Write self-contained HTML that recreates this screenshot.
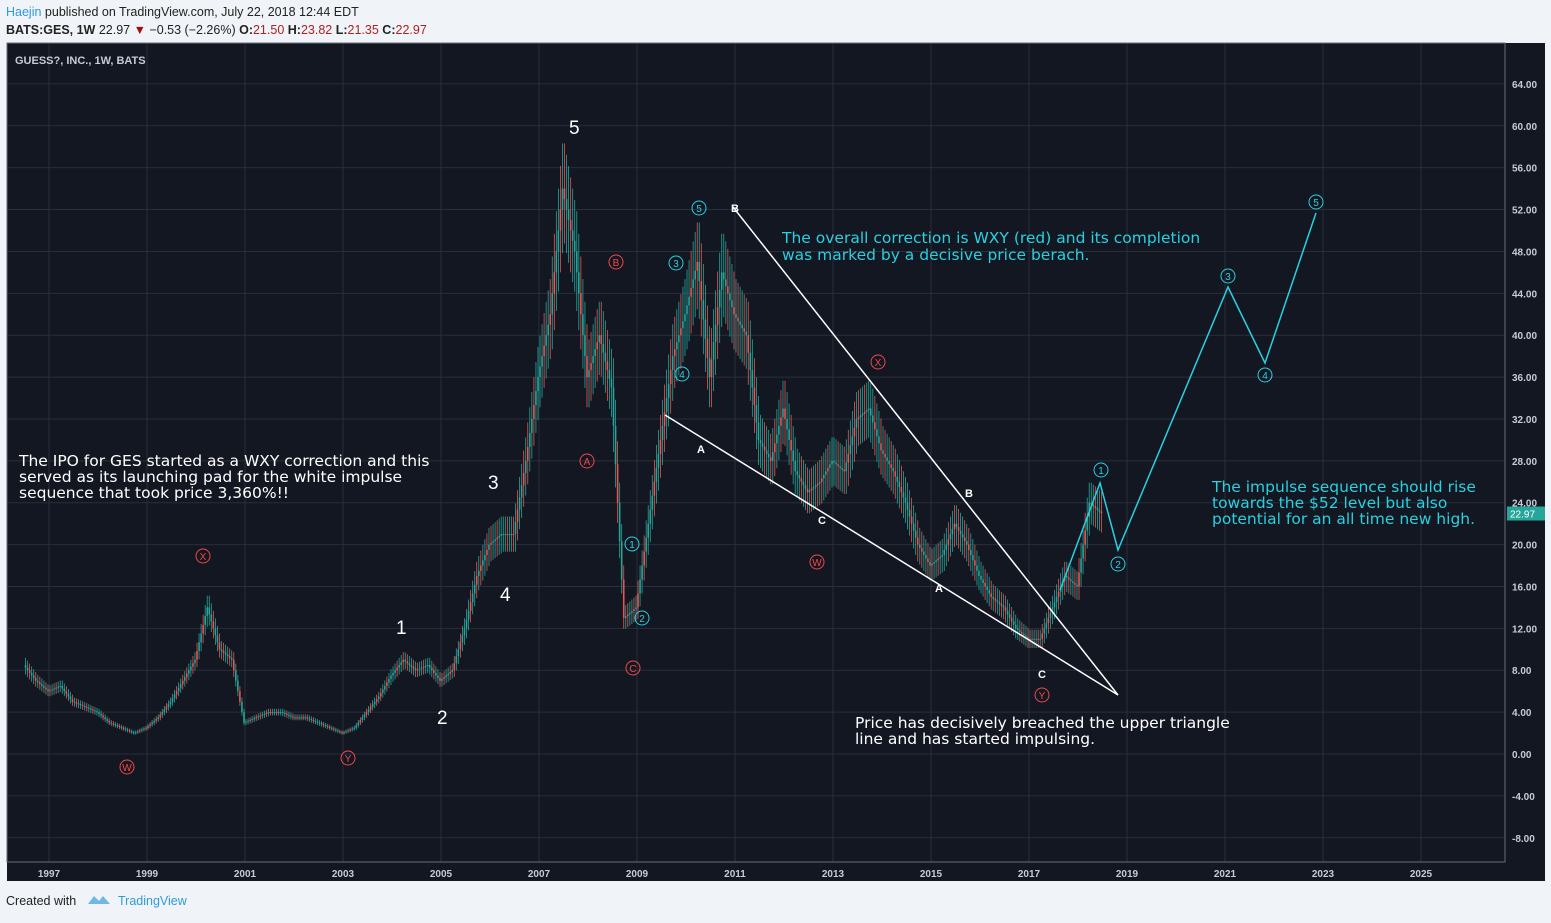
<!DOCTYPE html>
<html><head><meta charset="utf-8"><style>
body{margin:0;width:1551px;height:918px;background:#f0f3f7;font-family:"Liberation Sans",sans-serif;overflow:hidden}
svg text{font-family:"Liberation Sans",sans-serif}
svg text.note{font-family:"DejaVu Sans","Liberation Sans",sans-serif}
</style></head><body>
<svg id="c" width="1551" height="918">
<text x="6" y="16" font-size="12.5" fill="#222"><tspan fill="#2d9cdb">Haejin</tspan> published on TradingView.com, July 22, 2018 12:44 EDT</text>
<text x="6" y="34" font-size="12.5" fill="#222"><tspan font-weight="bold">BATS:GES, 1W</tspan>  22.97 <tspan fill="#a01010">▼</tspan> −0.53 (−2.26%) <tspan font-weight="bold">O:</tspan><tspan fill="#b02020">21.50</tspan> <tspan font-weight="bold">H:</tspan><tspan fill="#b02020">23.82</tspan> <tspan font-weight="bold">L:</tspan><tspan fill="#b02020">21.35</tspan> <tspan font-weight="bold">C:</tspan><tspan fill="#b02020">22.97</tspan></text>
<rect x="7" y="43" width="1538" height="838" fill="#131722"/>
<g id="grid"></g>
<rect x="7" y="43" width="1498" height="819" fill="none" stroke="#6a6d78"/>
<text x="15" y="64" font-size="11" font-weight="bold" fill="#c8cbd2">GUESS?, INC., 1W, BATS</text>
<g id="candles"></g>
<g id="ann"></g>
<text x="6" y="905" font-size="12.5" fill="#222">Created with</text>
<text x="118" y="905" font-size="12.5" fill="#2d9cdb">TradingView</text>
<path d="M88 904 l6 -8 l5 5 l4 -5 l7 8 z" fill="#6fb8e6"/>
</svg>
<script>
const yearTicks=[1997,1999,2001,2003,2005,2007,2009,2011,2013,2015,2017,2019,2021,2023,2025];
const priceTicks=[64,60,56,52,48,44,40,36,32,28,24,20,16,12,8,4,0,-4,-8];
const startYear=1996.5;
const closes=[8.5,7,6,6.5,5,4.5,4,3,2.5,2,2.5,3.5,5,7,9,14,10,9,3,3.5,4,4,3.5,3.5,3,2.5,2,2.5,4,5.5,7.5,9,8,8.5,7,8,12,17,20,21,21,28,36,42,54,48,36,40,35,13,14,22,30,38,42,47,36,46,42,40,30,28,33,27,25,26,28,27,32,33,29,27,24,20,18,19,22,20,17,15,14,12,11,11,14,17,16,24,23];
const NS='http://www.w3.org/2000/svg';
const X=y=>49+(y-1997)*49.0;
const Y=p=>754-p*10.47;
function mk(t,a,parent){const e=document.createElementNS(NS,t);for(const k in a)e.setAttribute(k,a[k]);parent.appendChild(e);return e;}
const grid=document.getElementById('grid');
for(const p of priceTicks){
 const l=mk('line',{x1:7,x2:1505,y1:Y(p),y2:Y(p),stroke:'#2a2e39'},grid);
 
 
 const t=mk('text',{x:1512,y:Y(p)+4,'font-size':10,fill:'#c8cbd2','font-weight':'bold'},grid);
 t.textContent=p.toFixed(2);
 
 
}
for(const y of yearTicks){
 const l=mk('line',{x1:X(y),x2:X(y),y1:43,y2:862,stroke:'#2a2e39'},grid);
 
 
 const t=mk('text',{x:X(y),y:877,'font-size':10,fill:'#c8cbd2','font-weight':'bold','text-anchor':'middle'},grid);
 t.textContent=y;
 
 
}
const cg=document.getElementById('candles');
for(let i=1;i<closes.length;i++){
 const o=closes[i-1],c=closes[i];
 const x0=X(startYear+(i-1)*0.25),x1=X(startYear+i*0.25);
 const n=6;
 for(let k=0;k<n;k++){
  const f0=k/n,f1=(k+1)/n;
  const a=o+(c-o)*f0,b=o+(c-o)*f1;
  const hi=Math.max(a,b)*1.08,lo=Math.min(a,b)*0.92;
  const x=x0+(x1-x0)*(k+0.5)/n;
  const col=((k+i)%3===0)?'#ef5350':'#26a69a';
  const w=mk('line',{x1:x,x2:x,y1:Y(hi),y2:Y(lo),stroke:col,'stroke-width':0.8},cg);
  
  
  const r=mk('rect',{x:x-0.8,width:1.6,y:Y(Math.max(a,b)),height:Math.max(1,Math.abs(Y(a)-Y(b))),fill:col},cg);
  
  
 }
}
const lb=mk('rect',{x:1507,y:Y(22.97)-7,width:38,height:14,fill:'#26a69a'},cg);


const lt=mk('text',{x:1510,y:Y(22.97)+4,'font-size':10,fill:'#fff'},cg);
lt.textContent='22.97';


const an=document.getElementById('ann');
function line(pts,col,name){const p=mk('polyline',{points:pts.map(q=>q.join(',')).join(' '),fill:'none',stroke:col,'stroke-width':1.5},an);}
line([[733,207],[1118,695]],'#fff','triangle-upper-line');
line([[665,415],[1118,695]],'#fff','triangle-lower-line');
line([[1060,590],[1100,483],[1118,550],[1228,287],[1265,363],[1316,213]],'#28d0e0','projected-impulse-path');
function circ(x,y,t,col,name){const c=mk('circle',{cx:x,cy:y,r:7,fill:'none',stroke:col,'stroke-width':1},an);const tx=mk('text',{x:x,y:y+4,'font-size':10,fill:col,'text-anchor':'middle'},an);tx.textContent=t;}
const red='#f04848',cy='#28d0e0';
circ(127,767,'W',red,'wave-w-red');circ(203,556,'X',red,'wave-x-red');circ(348,758,'Y',red,'wave-y-red');
circ(587,461,'A',red,'wave-a-red');circ(616,262,'B',red,'wave-b-red');circ(633,668,'C',red,'wave-c-red');
circ(817,562,'W',red,'wave-w2-red');circ(878,362,'X',red,'wave-x2-red');circ(1042,695,'Y',red,'wave-y2-red');
circ(632,544,'1',cy,'wave-1-cyan');circ(642,618,'2',cy,'wave-2-cyan');circ(676,263,'3',cy,'wave-3-cyan');circ(682,374,'4',cy,'wave-4-cyan');circ(699,208,'5',cy,'wave-5-cyan');
circ(1101,470,'1',cy,'proj-wave-1');circ(1118,564,'2',cy,'proj-wave-2');circ(1228,276,'3',cy,'proj-wave-3');circ(1265,375,'4',cy,'proj-wave-4');circ(1316,202,'5',cy,'proj-wave-5');
function txt(x,y,t,col,size,name,bold,cls){const e=mk('text',{x:x,y:y,'font-size':size,fill:col},an);if(bold)e.setAttribute('font-weight','bold');if(cls)e.setAttribute('class',cls);e.textContent=t;}
[[575,134,'5'],[494,489,'3'],[506,601,'4'],[402,634,'1'],[443,724,'2']].forEach(a=>txt(a[0]-6,a[1],a[2],'#fff',19,'white-wave-'+a[2]));
[[735,212,'B'],[701,453,'A'],[822,524,'C'],[969,497,'B'],[939,592,'A'],[1042,678,'C']].forEach(a=>txt(a[0]-4,a[1],a[2],'#fff',11,'abc-label-'+a[2],true));
txt(19,466,'The IPO for GES started as a WXY correction and this','#fff',15.5,'ipo-note-1',false,'note');
txt(19,482,'served as its launching pad for the white impulse','#fff',15.5,'ipo-note-2',false,'note');
txt(19,498,'sequence that took price 3,360%!!','#fff',15.5,'ipo-note-3',false,'note');
txt(782,243,'The overall correction is WXY (red) and its completion',cy,15.5,'correction-note-1',false,'note');
txt(782,260,'was marked by a decisive price berach.',cy,15.5,'correction-note-2',false,'note');
txt(1212,492,'The impulse sequence should rise',cy,15.5,'impulse-note-1',false,'note');
txt(1212,508,'towards the $52 level but also',cy,15.5,'impulse-note-2',false,'note');
txt(1212,524,'potential for an all time new high.',cy,15.5,'impulse-note-3',false,'note');
txt(855,728,'Price has decisively breached the upper triangle','#fff',15.5,'breach-note-1',false,'note');
txt(855,744,'line and has started impulsing.','#fff',15.5,'breach-note-2',false,'note');
</script>
</body></html>
